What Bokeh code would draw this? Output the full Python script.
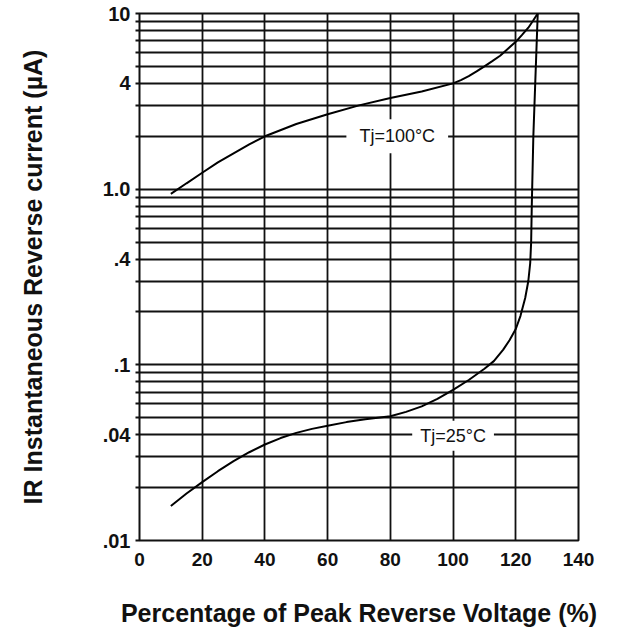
from bokeh.plotting import figure
from bokeh.models import FixedTicker, Label
from bokeh.embed import file_html
from bokeh.resources import INLINE

# ---- data ----
x_100 = [10, 15, 20, 25, 30, 35, 40, 50, 60, 70, 80, 90, 100, 102.5, 105, 107.5, 110,
         112.5, 115, 117.5, 120, 122, 124, 125.5, 127]
y_100 = [0.94, 1.08, 1.24, 1.42, 1.6, 1.8, 2.0, 2.35, 2.67, 3.0, 3.3, 3.6, 4.0, 4.18, 4.4,
         4.68, 5.0, 5.36, 5.75, 6.3, 6.9, 7.55, 8.3, 9.1, 10]

x_25 = [10, 15, 20, 25, 30, 35, 40, 45, 50, 55, 60, 66, 72, 80, 85, 90, 95, 100, 105,
        110, 113, 116, 118, 120, 121.5, 123, 124, 124.6, 124.9, 125.1, 125.6, 126.2, 127]
y_25 = [0.0157, 0.0185, 0.0215, 0.0248, 0.0283, 0.0318, 0.0352, 0.0383, 0.041, 0.0432,
        0.045, 0.0472, 0.049, 0.051, 0.054, 0.058, 0.064, 0.072, 0.082, 0.095, 0.105,
        0.122, 0.138, 0.16, 0.19, 0.24, 0.3, 0.38, 0.5, 0.8, 2.0, 4.0, 10]

x_ticks = [0, 20, 40, 60, 80, 100, 120, 140]
y_grid = [0.01, 0.02, 0.03, 0.04, 0.05, 0.06, 0.07, 0.08, 0.09,
          0.1, 0.2, 0.3, 0.4, 0.5, 0.6, 0.7, 0.8, 0.9,
          1, 2, 3, 4, 5, 6, 7, 8, 9, 10]
y_labels = {0.01: ".01", 0.04: ".04", 0.1: ".1", 0.4: ".4", 1: "1.0", 4: "4", 10: "10"}

label_100 = "Tj=100°C"
label_25 = "Tj=25°C"
x_title = "Percentage of Peak Reverse Voltage (%)"
y_title = "IR Instantaneous Reverse current (µA)"

FONT = "Liberation Sans"
INK = "#111111"

p = figure(width=621, height=636, x_range=(0, 140), y_range=(0.01, 10),
           y_axis_type="log", output_backend="svg", toolbar_location=None,
           min_border_left=139, min_border_right=43, min_border_top=13,
           min_border_bottom=96)

p.outline_line_color = INK
p.outline_line_width = 2
p.background_fill_color = "white"
p.border_fill_color = "white"

# grids
p.xgrid.ticker = FixedTicker(ticks=x_ticks)
p.ygrid.ticker = FixedTicker(ticks=y_grid)
for g in (p.xgrid, p.ygrid):
    g.grid_line_color = INK
    g.grid_line_width = 1.8
    g.grid_line_alpha = 1.0

# x axis
xa = p.xaxis[0]
xa.ticker = FixedTicker(ticks=x_ticks)
xa.axis_line_color = None
xa.major_tick_out = 0
xa.major_tick_in = 0
xa.minor_tick_line_color = None
xa.major_label_standoff = 12
xa.major_label_text_font = FONT
xa.major_label_text_font_style = "bold"
xa.major_label_text_font_size = "19px"
xa.major_label_text_color = INK
xa.axis_label = x_title
xa.axis_label_text_font = FONT
xa.axis_label_text_font_style = "bold"
xa.axis_label_text_font_size = "25px"
xa.axis_label_text_color = INK
xa.axis_label_standoff = 30

# y axis
ya = p.yaxis[0]
ya.ticker = FixedTicker(ticks=y_grid)
ya.major_label_overrides = {t: y_labels.get(t, "") for t in y_grid}
ya.axis_line_color = None
ya.major_tick_out = 4
ya.major_tick_in = 0
ya.major_tick_line_color = INK
ya.major_tick_line_width = 1.8
ya.minor_tick_line_color = None
ya.major_label_standoff = 5
ya.major_label_text_font = FONT
ya.major_label_text_font_style = "bold"
ya.major_label_text_font_size = "20px"
ya.major_label_text_color = INK
ya.axis_label = y_title
ya.axis_label_text_font = FONT
ya.axis_label_text_font_style = "bold"
ya.axis_label_text_font_size = "25px"
ya.axis_label_text_color = INK
ya.axis_label_standoff = 53

# curves
p.line(x_100, y_100, line_color="#000000", line_width=2)
p.line(x_25, y_25, line_color="#000000", line_width=2)

# curve labels with white boxes
p.add_layout(Label(x=82.2, y=2.0, text=label_100, text_align="center",
                   text_baseline="middle", text_font=FONT, text_font_size="18px",
                   text_color=INK, background_fill_color="white",
                   padding=dict(left=13, right=13, top=7, bottom=7)))
p.add_layout(Label(x=100, y=0.0395, text=label_25, text_align="center",
                   text_baseline="middle", text_font=FONT, text_font_size="18px",
                   text_color=INK, background_fill_color="white",
                   padding=dict(left=8, right=8, top=5, bottom=5)))

open("out.html", "w").write(file_html(p, INLINE))
